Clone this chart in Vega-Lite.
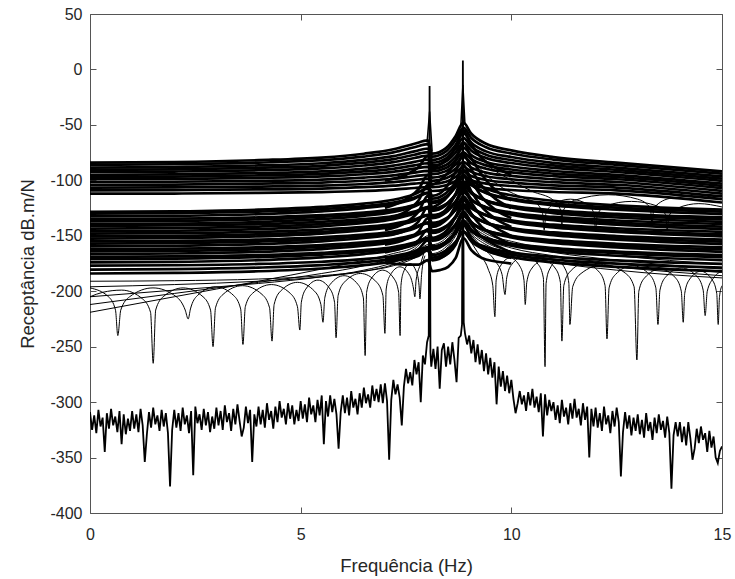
{
"$schema": "https://vega.github.io/schema/vega-lite/v6.json",
"width": 632, "height": 499,
"autosize": {"type": "none"},
"padding": {"left": 90, "top": 14, "right": 13, "bottom": 66},
"background": "white",
"config": {
  "view": {"stroke": "#555555", "strokeWidth": 1},
  "font": "Liberation Sans",
  "axis": {"labelFont": "Liberation Sans", "labelFontSize": 16, "labelColor": "#262626", "titleFont": "Liberation Sans", "titleFontSize": 18.5, "titleFontWeight": "normal", "titleColor": "#262626", "tickColor": "#555555", "tickSize": -6, "labelPadding": 14, "labelFlush": false, "labelOverlap": false, "domain": false, "grid": false}
},
"datasets": {
"b": [
{"s":"U1","x":0,"y":-84},{"s":"U1","x":2,"y":-83.5},{"s":"U1","x":4,"y":-81.8},{"s":"U1","x":5.5,"y":-79.5},{"s":"U1","x":6.5,"y":-76},{"s":"U1","x":7.2,"y":-72},{"s":"U1","x":7.7,"y":-67},{"s":"U1","x":8.02,"y":-64},{"s":"U1","x":8.12,"y":-76},{"s":"U1","x":8.45,"y":-71},{"s":"U1","x":8.68,"y":-60},{"s":"U1","x":8.86,"y":-48},{"s":"U1","x":9.05,"y":-58},{"s":"U1","x":9.4,"y":-67},{"s":"U1","x":10,"y":-73},{"s":"U1","x":11,"y":-79},{"s":"U1","x":12.5,"y":-84},{"s":"U1","x":15,"y":-92},
{"s":"U2","x":0,"y":-86},{"s":"U2","x":2,"y":-85.5},{"s":"U2","x":4,"y":-84},{"s":"U2","x":5.5,"y":-81.8},{"s":"U2","x":6.5,"y":-78.6},{"s":"U2","x":7.2,"y":-74.8},{"s":"U2","x":7.7,"y":-70.2},{"s":"U2","x":8.02,"y":-67.4},{"s":"U2","x":8.12,"y":-78.6},{"s":"U2","x":8.45,"y":-73.9},{"s":"U2","x":8.68,"y":-63.7},{"s":"U2","x":8.86,"y":-52.5},{"s":"U2","x":9.05,"y":-61.8},{"s":"U2","x":9.4,"y":-70.2},{"s":"U2","x":10,"y":-75.8},{"s":"U2","x":11,"y":-81.3},{"s":"U2","x":12.5,"y":-86},{"s":"U2","x":15,"y":-94},
{"s":"U3","x":0,"y":-88.5},{"s":"U3","x":2,"y":-88.1},{"s":"U3","x":4,"y":-86.6},{"s":"U3","x":5.5,"y":-84.6},{"s":"U3","x":6.5,"y":-81.6},{"s":"U3","x":7.2,"y":-78.2},{"s":"U3","x":7.7,"y":-73.9},{"s":"U3","x":8.02,"y":-71.3},{"s":"U3","x":8.12,"y":-81.6},{"s":"U3","x":8.45,"y":-77.3},{"s":"U3","x":8.68,"y":-67.9},{"s":"U3","x":8.86,"y":-57.5},{"s":"U3","x":9.05,"y":-66.1},{"s":"U3","x":9.4,"y":-73.9},{"s":"U3","x":10,"y":-79},{"s":"U3","x":11,"y":-84.2},{"s":"U3","x":12.5,"y":-88.5},{"s":"U3","x":15,"y":-96.5},
{"s":"U4","x":0,"y":-90.5},{"s":"U4","x":2,"y":-90.1},{"s":"U4","x":4,"y":-88.7},{"s":"U4","x":5.5,"y":-86.9},{"s":"U4","x":6.5,"y":-84.1},{"s":"U4","x":7.2,"y":-80.9},{"s":"U4","x":7.7,"y":-76.9},{"s":"U4","x":8.02,"y":-74.5},{"s":"U4","x":8.12,"y":-84.1},{"s":"U4","x":8.45,"y":-80.1},{"s":"U4","x":8.68,"y":-71.3},{"s":"U4","x":8.86,"y":-61.7},{"s":"U4","x":9.05,"y":-69.7},{"s":"U4","x":9.4,"y":-76.9},{"s":"U4","x":10,"y":-81.7},{"s":"U4","x":11,"y":-86.5},{"s":"U4","x":12.5,"y":-90.5},{"s":"U4","x":15,"y":-98.5},
{"s":"U5","x":0,"y":-92.5},{"s":"U5","x":2,"y":-92.1},{"s":"U5","x":4,"y":-90.9},{"s":"U5","x":5.5,"y":-89.2},{"s":"U5","x":6.5,"y":-86.6},{"s":"U5","x":7.2,"y":-83.6},{"s":"U5","x":7.7,"y":-79.9},{"s":"U5","x":8.02,"y":-77.7},{"s":"U5","x":8.12,"y":-86.6},{"s":"U5","x":8.45,"y":-82.9},{"s":"U5","x":8.68,"y":-74.7},{"s":"U5","x":8.86,"y":-65.9},{"s":"U5","x":9.05,"y":-73.3},{"s":"U5","x":9.4,"y":-79.9},{"s":"U5","x":10,"y":-84.4},{"s":"U5","x":11,"y":-88.8},{"s":"U5","x":12.5,"y":-92.5},{"s":"U5","x":15,"y":-100.5},
{"s":"U6","x":0,"y":-95},{"s":"U6","x":2,"y":-94.7},{"s":"U6","x":4,"y":-93.5},{"s":"U6","x":5.5,"y":-91.9},{"s":"U6","x":6.5,"y":-89.6},{"s":"U6","x":7.2,"y":-86.8},{"s":"U6","x":7.7,"y":-83.4},{"s":"U6","x":8.02,"y":-81.4},{"s":"U6","x":8.12,"y":-89.6},{"s":"U6","x":8.45,"y":-86.2},{"s":"U6","x":8.68,"y":-78.7},{"s":"U6","x":8.86,"y":-70.5},{"s":"U6","x":9.05,"y":-77.3},{"s":"U6","x":9.4,"y":-83.4},{"s":"U6","x":10,"y":-87.5},{"s":"U6","x":11,"y":-91.6},{"s":"U6","x":12.5,"y":-95},{"s":"U6","x":15,"y":-103},
{"s":"U7","x":0,"y":-97},{"s":"U7","x":2,"y":-96.7},{"s":"U7","x":4,"y":-95.6},{"s":"U7","x":5.5,"y":-94.2},{"s":"U7","x":6.5,"y":-92},{"s":"U7","x":7.2,"y":-89.6},{"s":"U7","x":7.7,"y":-86.5},{"s":"U7","x":8.02,"y":-84.6},{"s":"U7","x":8.12,"y":-92},{"s":"U7","x":8.45,"y":-88.9},{"s":"U7","x":8.68,"y":-82.1},{"s":"U7","x":8.86,"y":-74.7},{"s":"U7","x":9.05,"y":-80.9},{"s":"U7","x":9.4,"y":-86.5},{"s":"U7","x":10,"y":-90.2},{"s":"U7","x":11,"y":-93.9},{"s":"U7","x":12.5,"y":-97},{"s":"U7","x":15,"y":-105},
{"s":"U8","x":0,"y":-99},{"s":"U8","x":2,"y":-98.7},{"s":"U8","x":4,"y":-97.8},{"s":"U8","x":5.5,"y":-96.5},{"s":"U8","x":6.5,"y":-94.5},{"s":"U8","x":7.2,"y":-92.3},{"s":"U8","x":7.7,"y":-89.5},{"s":"U8","x":8.02,"y":-87.8},{"s":"U8","x":8.12,"y":-94.5},{"s":"U8","x":8.45,"y":-91.7},{"s":"U8","x":8.68,"y":-85.6},{"s":"U8","x":8.86,"y":-78.8},{"s":"U8","x":9.05,"y":-84.4},{"s":"U8","x":9.4,"y":-89.5},{"s":"U8","x":10,"y":-92.8},{"s":"U8","x":11,"y":-96.2},{"s":"U8","x":12.5,"y":-99},{"s":"U8","x":15,"y":-107},
{"s":"U9","x":0,"y":-101.5},{"s":"U9","x":2,"y":-101.3},{"s":"U9","x":4,"y":-100.4},{"s":"U9","x":5.5,"y":-99.3},{"s":"U9","x":6.5,"y":-97.5},{"s":"U9","x":7.2,"y":-95.5},{"s":"U9","x":7.7,"y":-93},{"s":"U9","x":8.02,"y":-91.5},{"s":"U9","x":8.12,"y":-97.5},{"s":"U9","x":8.45,"y":-95},{"s":"U9","x":8.68,"y":-89.5},{"s":"U9","x":8.86,"y":-83.5},{"s":"U9","x":9.05,"y":-88.5},{"s":"U9","x":9.4,"y":-93},{"s":"U9","x":10,"y":-96},{"s":"U9","x":11,"y":-99},{"s":"U9","x":12.5,"y":-101.5},{"s":"U9","x":15,"y":-109.5},
{"s":"U10","x":0,"y":-104},{"s":"U10","x":2,"y":-103.8},{"s":"U10","x":4,"y":-103},{"s":"U10","x":5.5,"y":-102},{"s":"U10","x":6.5,"y":-100.4},{"s":"U10","x":7.2,"y":-98.6},{"s":"U10","x":7.7,"y":-96.3},{"s":"U10","x":8.02,"y":-95},{"s":"U10","x":8.12,"y":-100.4},{"s":"U10","x":8.45,"y":-98.1},{"s":"U10","x":8.68,"y":-93.2},{"s":"U10","x":8.86,"y":-87.8},{"s":"U10","x":9.05,"y":-92.3},{"s":"U10","x":9.4,"y":-96.3},{"s":"U10","x":10,"y":-99},{"s":"U10","x":11,"y":-101.7},{"s":"U10","x":12.5,"y":-104},{"s":"U10","x":15,"y":-112},
{"s":"U11","x":0,"y":-106.5},{"s":"U11","x":2,"y":-106.3},{"s":"U11","x":4,"y":-105.6},{"s":"U11","x":5.5,"y":-104.7},{"s":"U11","x":6.5,"y":-103.3},{"s":"U11","x":7.2,"y":-101.7},{"s":"U11","x":7.7,"y":-99.7},{"s":"U11","x":8.02,"y":-98.5},{"s":"U11","x":8.12,"y":-103.3},{"s":"U11","x":8.45,"y":-101.3},{"s":"U11","x":8.68,"y":-96.9},{"s":"U11","x":8.86,"y":-92.1},{"s":"U11","x":9.05,"y":-96.1},{"s":"U11","x":9.4,"y":-99.7},{"s":"U11","x":10,"y":-102.1},{"s":"U11","x":11,"y":-104.5},{"s":"U11","x":12.5,"y":-106.5},{"s":"U11","x":15,"y":-114.5},
{"s":"U12","x":0,"y":-109},{"s":"U12","x":2,"y":-108.8},{"s":"U12","x":4,"y":-108.2},{"s":"U12","x":5.5,"y":-107.4},{"s":"U12","x":6.5,"y":-106.2},{"s":"U12","x":7.2,"y":-104.8},{"s":"U12","x":7.7,"y":-103},{"s":"U12","x":8.02,"y":-102},{"s":"U12","x":8.12,"y":-106.2},{"s":"U12","x":8.45,"y":-104.4},{"s":"U12","x":8.68,"y":-100.6},{"s":"U12","x":8.86,"y":-96.4},{"s":"U12","x":9.05,"y":-99.9},{"s":"U12","x":9.4,"y":-103},{"s":"U12","x":10,"y":-105.1},{"s":"U12","x":11,"y":-107.2},{"s":"U12","x":12.5,"y":-109},{"s":"U12","x":15,"y":-117},
{"s":"U13","x":0,"y":-112},{"s":"U13","x":2,"y":-111.9},{"s":"U13","x":4,"y":-111.3},{"s":"U13","x":5.5,"y":-110.6},{"s":"U13","x":6.5,"y":-109.6},{"s":"U13","x":7.2,"y":-108.4},{"s":"U13","x":7.7,"y":-106.9},{"s":"U13","x":8.02,"y":-106},{"s":"U13","x":8.12,"y":-109.6},{"s":"U13","x":8.45,"y":-108.1},{"s":"U13","x":8.68,"y":-104.8},{"s":"U13","x":8.86,"y":-101.2},{"s":"U13","x":9.05,"y":-104.2},{"s":"U13","x":9.4,"y":-106.9},{"s":"U13","x":10,"y":-108.7},{"s":"U13","x":11,"y":-110.5},{"s":"U13","x":12.5,"y":-112},{"s":"U13","x":15,"y":-120},
{"s":"L1","x":0,"y":-128.5},{"s":"L1","x":2,"y":-128},{"s":"L1","x":4,"y":-126.5},{"s":"L1","x":5.5,"y":-124},{"s":"L1","x":6.5,"y":-121},{"s":"L1","x":7.2,"y":-117.5},{"s":"L1","x":7.7,"y":-112.5},{"s":"L1","x":8.02,"y":-107.5},{"s":"L1","x":8.12,"y":-116.5},{"s":"L1","x":8.45,"y":-111.5},{"s":"L1","x":8.68,"y":-101.5},{"s":"L1","x":8.86,"y":-90.5},{"s":"L1","x":9.05,"y":-99.5},{"s":"L1","x":9.4,"y":-107.5},{"s":"L1","x":10,"y":-113.5},{"s":"L1","x":11,"y":-118.5},{"s":"L1","x":12.5,"y":-122.5},{"s":"L1","x":15,"y":-126.5},
{"s":"L2","x":0,"y":-130},{"s":"L2","x":2,"y":-129.6},{"s":"L2","x":4,"y":-128.2},{"s":"L2","x":5.5,"y":-126},{"s":"L2","x":6.5,"y":-123.3},{"s":"L2","x":7.2,"y":-120.1},{"s":"L2","x":7.7,"y":-115.6},{"s":"L2","x":8.02,"y":-111.1},{"s":"L2","x":8.12,"y":-119.2},{"s":"L2","x":8.45,"y":-114.7},{"s":"L2","x":8.68,"y":-105.7},{"s":"L2","x":8.86,"y":-95.8},{"s":"L2","x":9.05,"y":-103.9},{"s":"L2","x":9.4,"y":-111.1},{"s":"L2","x":10,"y":-116.5},{"s":"L2","x":11,"y":-121},{"s":"L2","x":12.5,"y":-124.6},{"s":"L2","x":15,"y":-128.2},
{"s":"L3","x":0,"y":-132.5},{"s":"L3","x":2,"y":-132},{"s":"L3","x":4,"y":-130.5},{"s":"L3","x":5.5,"y":-128},{"s":"L3","x":6.5,"y":-125},{"s":"L3","x":7.2,"y":-121.5},{"s":"L3","x":7.7,"y":-116.5},{"s":"L3","x":8.02,"y":-111.5},{"s":"L3","x":8.12,"y":-120.5},{"s":"L3","x":8.45,"y":-115.5},{"s":"L3","x":8.68,"y":-105.5},{"s":"L3","x":8.86,"y":-94.5},{"s":"L3","x":9.05,"y":-103.5},{"s":"L3","x":9.4,"y":-111.5},{"s":"L3","x":10,"y":-117.5},{"s":"L3","x":11,"y":-122.5},{"s":"L3","x":12.5,"y":-126.5},{"s":"L3","x":15,"y":-130.5},
{"s":"L4","x":0,"y":-135},{"s":"L4","x":2,"y":-134.6},{"s":"L4","x":4,"y":-133.4},{"s":"L4","x":5.5,"y":-131.4},{"s":"L4","x":6.5,"y":-129},{"s":"L4","x":7.2,"y":-126.2},{"s":"L4","x":7.7,"y":-122.2},{"s":"L4","x":8.02,"y":-118.2},{"s":"L4","x":8.12,"y":-125.4},{"s":"L4","x":8.45,"y":-121.4},{"s":"L4","x":8.68,"y":-113.4},{"s":"L4","x":8.86,"y":-104.6},{"s":"L4","x":9.05,"y":-111.8},{"s":"L4","x":9.4,"y":-118.2},{"s":"L4","x":10,"y":-123},{"s":"L4","x":11,"y":-127},{"s":"L4","x":12.5,"y":-130.2},{"s":"L4","x":15,"y":-133.4},
{"s":"L5","x":0,"y":-137},{"s":"L5","x":2,"y":-136.6},{"s":"L5","x":4,"y":-135.2},{"s":"L5","x":5.5,"y":-133},{"s":"L5","x":6.5,"y":-130.3},{"s":"L5","x":7.2,"y":-127.1},{"s":"L5","x":7.7,"y":-122.6},{"s":"L5","x":8.02,"y":-118.1},{"s":"L5","x":8.12,"y":-126.2},{"s":"L5","x":8.45,"y":-121.7},{"s":"L5","x":8.68,"y":-112.7},{"s":"L5","x":8.86,"y":-102.8},{"s":"L5","x":9.05,"y":-110.9},{"s":"L5","x":9.4,"y":-118.1},{"s":"L5","x":10,"y":-123.5},{"s":"L5","x":11,"y":-128},{"s":"L5","x":12.5,"y":-131.6},{"s":"L5","x":15,"y":-135.2},
{"s":"L6","x":0,"y":-139.5},{"s":"L6","x":2,"y":-139},{"s":"L6","x":4,"y":-137.5},{"s":"L6","x":5.5,"y":-135},{"s":"L6","x":6.5,"y":-132},{"s":"L6","x":7.2,"y":-128.5},{"s":"L6","x":7.7,"y":-123.5},{"s":"L6","x":8.02,"y":-118.5},{"s":"L6","x":8.12,"y":-127.5},{"s":"L6","x":8.45,"y":-122.5},{"s":"L6","x":8.68,"y":-112.5},{"s":"L6","x":8.86,"y":-101.5},{"s":"L6","x":9.05,"y":-110.5},{"s":"L6","x":9.4,"y":-118.5},{"s":"L6","x":10,"y":-124.5},{"s":"L6","x":11,"y":-129.5},{"s":"L6","x":12.5,"y":-133.5},{"s":"L6","x":15,"y":-137.5},
{"s":"L7","x":0,"y":-141},{"s":"L7","x":2,"y":-140.6},{"s":"L7","x":4,"y":-139.4},{"s":"L7","x":5.5,"y":-137.4},{"s":"L7","x":6.5,"y":-135},{"s":"L7","x":7.2,"y":-132.2},{"s":"L7","x":7.7,"y":-128.2},{"s":"L7","x":8.02,"y":-124.2},{"s":"L7","x":8.12,"y":-131.4},{"s":"L7","x":8.45,"y":-127.4},{"s":"L7","x":8.68,"y":-119.4},{"s":"L7","x":8.86,"y":-110.6},{"s":"L7","x":9.05,"y":-117.8},{"s":"L7","x":9.4,"y":-124.2},{"s":"L7","x":10,"y":-129},{"s":"L7","x":11,"y":-133},{"s":"L7","x":12.5,"y":-136.2},{"s":"L7","x":15,"y":-139.4},
{"s":"L8","x":0,"y":-143.5},{"s":"L8","x":2,"y":-143.1},{"s":"L8","x":4,"y":-141.7},{"s":"L8","x":5.5,"y":-139.5},{"s":"L8","x":6.5,"y":-136.8},{"s":"L8","x":7.2,"y":-133.6},{"s":"L8","x":7.7,"y":-129.1},{"s":"L8","x":8.02,"y":-124.6},{"s":"L8","x":8.12,"y":-132.7},{"s":"L8","x":8.45,"y":-128.2},{"s":"L8","x":8.68,"y":-119.2},{"s":"L8","x":8.86,"y":-109.3},{"s":"L8","x":9.05,"y":-117.4},{"s":"L8","x":9.4,"y":-124.6},{"s":"L8","x":10,"y":-130},{"s":"L8","x":11,"y":-134.5},{"s":"L8","x":12.5,"y":-138.1},{"s":"L8","x":15,"y":-141.7},
{"s":"L9","x":0,"y":-146},{"s":"L9","x":2,"y":-145.5},{"s":"L9","x":4,"y":-144},{"s":"L9","x":5.5,"y":-141.5},{"s":"L9","x":6.5,"y":-138.5},{"s":"L9","x":7.2,"y":-135},{"s":"L9","x":7.7,"y":-130},{"s":"L9","x":8.02,"y":-125},{"s":"L9","x":8.12,"y":-134},{"s":"L9","x":8.45,"y":-129},{"s":"L9","x":8.68,"y":-119},{"s":"L9","x":8.86,"y":-108},{"s":"L9","x":9.05,"y":-117},{"s":"L9","x":9.4,"y":-125},{"s":"L9","x":10,"y":-131},{"s":"L9","x":11,"y":-136},{"s":"L9","x":12.5,"y":-140},{"s":"L9","x":15,"y":-144},
{"s":"L10","x":0,"y":-148},{"s":"L10","x":2,"y":-147.6},{"s":"L10","x":4,"y":-146.4},{"s":"L10","x":5.5,"y":-144.4},{"s":"L10","x":6.5,"y":-142},{"s":"L10","x":7.2,"y":-139.2},{"s":"L10","x":7.7,"y":-135.2},{"s":"L10","x":8.02,"y":-131.2},{"s":"L10","x":8.12,"y":-138.4},{"s":"L10","x":8.45,"y":-134.4},{"s":"L10","x":8.68,"y":-126.4},{"s":"L10","x":8.86,"y":-117.6},{"s":"L10","x":9.05,"y":-124.8},{"s":"L10","x":9.4,"y":-131.2},{"s":"L10","x":10,"y":-136},{"s":"L10","x":11,"y":-140},{"s":"L10","x":12.5,"y":-143.2},{"s":"L10","x":15,"y":-146.4},
{"s":"L11","x":0,"y":-150.5},{"s":"L11","x":2,"y":-150.1},{"s":"L11","x":4,"y":-148.7},{"s":"L11","x":5.5,"y":-146.5},{"s":"L11","x":6.5,"y":-143.8},{"s":"L11","x":7.2,"y":-140.6},{"s":"L11","x":7.7,"y":-136.1},{"s":"L11","x":8.02,"y":-131.6},{"s":"L11","x":8.12,"y":-139.7},{"s":"L11","x":8.45,"y":-135.2},{"s":"L11","x":8.68,"y":-126.2},{"s":"L11","x":8.86,"y":-116.3},{"s":"L11","x":9.05,"y":-124.4},{"s":"L11","x":9.4,"y":-131.6},{"s":"L11","x":10,"y":-137},{"s":"L11","x":11,"y":-141.5},{"s":"L11","x":12.5,"y":-145.1},{"s":"L11","x":15,"y":-148.7},
{"s":"L12","x":0,"y":-152.5},{"s":"L12","x":2,"y":-152},{"s":"L12","x":4,"y":-150.5},{"s":"L12","x":5.5,"y":-148},{"s":"L12","x":6.5,"y":-145},{"s":"L12","x":7.2,"y":-141.5},{"s":"L12","x":7.7,"y":-136.5},{"s":"L12","x":8.02,"y":-131.5},{"s":"L12","x":8.12,"y":-140.5},{"s":"L12","x":8.45,"y":-135.5},{"s":"L12","x":8.68,"y":-125.5},{"s":"L12","x":8.86,"y":-114.5},{"s":"L12","x":9.05,"y":-123.5},{"s":"L12","x":9.4,"y":-131.5},{"s":"L12","x":10,"y":-137.5},{"s":"L12","x":11,"y":-142.5},{"s":"L12","x":12.5,"y":-146.5},{"s":"L12","x":15,"y":-150.5},
{"s":"L13","x":0,"y":-155},{"s":"L13","x":2,"y":-154.6},{"s":"L13","x":4,"y":-153.4},{"s":"L13","x":5.5,"y":-151.4},{"s":"L13","x":6.5,"y":-149},{"s":"L13","x":7.2,"y":-146.2},{"s":"L13","x":7.7,"y":-142.2},{"s":"L13","x":8.02,"y":-138.2},{"s":"L13","x":8.12,"y":-145.4},{"s":"L13","x":8.45,"y":-141.4},{"s":"L13","x":8.68,"y":-133.4},{"s":"L13","x":8.86,"y":-124.6},{"s":"L13","x":9.05,"y":-131.8},{"s":"L13","x":9.4,"y":-138.2},{"s":"L13","x":10,"y":-143},{"s":"L13","x":11,"y":-147},{"s":"L13","x":12.5,"y":-150.2},{"s":"L13","x":15,"y":-153.4},
{"s":"L14","x":0,"y":-157},{"s":"L14","x":2,"y":-156.6},{"s":"L14","x":4,"y":-155.2},{"s":"L14","x":5.5,"y":-153},{"s":"L14","x":6.5,"y":-150.3},{"s":"L14","x":7.2,"y":-147.1},{"s":"L14","x":7.7,"y":-142.6},{"s":"L14","x":8.02,"y":-138.1},{"s":"L14","x":8.12,"y":-146.2},{"s":"L14","x":8.45,"y":-141.7},{"s":"L14","x":8.68,"y":-132.7},{"s":"L14","x":8.86,"y":-122.8},{"s":"L14","x":9.05,"y":-130.9},{"s":"L14","x":9.4,"y":-138.1},{"s":"L14","x":10,"y":-143.5},{"s":"L14","x":11,"y":-148},{"s":"L14","x":12.5,"y":-151.6},{"s":"L14","x":15,"y":-155.2},
{"s":"L15","x":0,"y":-159.5},{"s":"L15","x":2,"y":-159},{"s":"L15","x":4,"y":-157.5},{"s":"L15","x":5.5,"y":-155},{"s":"L15","x":6.5,"y":-152},{"s":"L15","x":7.2,"y":-148.5},{"s":"L15","x":7.7,"y":-143.5},{"s":"L15","x":8.02,"y":-138.5},{"s":"L15","x":8.12,"y":-147.5},{"s":"L15","x":8.45,"y":-142.5},{"s":"L15","x":8.68,"y":-132.5},{"s":"L15","x":8.86,"y":-121.5},{"s":"L15","x":9.05,"y":-130.5},{"s":"L15","x":9.4,"y":-138.5},{"s":"L15","x":10,"y":-144.5},{"s":"L15","x":11,"y":-149.5},{"s":"L15","x":12.5,"y":-153.5},{"s":"L15","x":15,"y":-157.5},
{"s":"L16","x":0,"y":-162},{"s":"L16","x":2,"y":-161.6},{"s":"L16","x":4,"y":-160.4},{"s":"L16","x":5.5,"y":-158.4},{"s":"L16","x":6.5,"y":-156},{"s":"L16","x":7.2,"y":-153.2},{"s":"L16","x":7.7,"y":-149.2},{"s":"L16","x":8.02,"y":-145.2},{"s":"L16","x":8.12,"y":-152.4},{"s":"L16","x":8.45,"y":-148.4},{"s":"L16","x":8.68,"y":-140.4},{"s":"L16","x":8.86,"y":-131.6},{"s":"L16","x":9.05,"y":-138.8},{"s":"L16","x":9.4,"y":-145.2},{"s":"L16","x":10,"y":-150},{"s":"L16","x":11,"y":-154},{"s":"L16","x":12.5,"y":-157.2},{"s":"L16","x":15,"y":-160.4},
{"s":"L17","x":0,"y":-164},{"s":"L17","x":2,"y":-163.6},{"s":"L17","x":4,"y":-162.2},{"s":"L17","x":5.5,"y":-160},{"s":"L17","x":6.5,"y":-157.3},{"s":"L17","x":7.2,"y":-154.1},{"s":"L17","x":7.7,"y":-149.6},{"s":"L17","x":8.02,"y":-145.1},{"s":"L17","x":8.12,"y":-153.2},{"s":"L17","x":8.45,"y":-148.7},{"s":"L17","x":8.68,"y":-139.7},{"s":"L17","x":8.86,"y":-129.8},{"s":"L17","x":9.05,"y":-137.9},{"s":"L17","x":9.4,"y":-145.1},{"s":"L17","x":10,"y":-150.5},{"s":"L17","x":11,"y":-155},{"s":"L17","x":12.5,"y":-158.6},{"s":"L17","x":15,"y":-162.2},
{"s":"L18","x":0,"y":-166.5},{"s":"L18","x":2,"y":-166},{"s":"L18","x":4,"y":-164.5},{"s":"L18","x":5.5,"y":-162},{"s":"L18","x":6.5,"y":-159},{"s":"L18","x":7.2,"y":-155.5},{"s":"L18","x":7.7,"y":-150.5},{"s":"L18","x":8.02,"y":-145.5},{"s":"L18","x":8.12,"y":-154.5},{"s":"L18","x":8.45,"y":-149.5},{"s":"L18","x":8.68,"y":-139.5},{"s":"L18","x":8.86,"y":-128.5},{"s":"L18","x":9.05,"y":-137.5},{"s":"L18","x":9.4,"y":-145.5},{"s":"L18","x":10,"y":-151.5},{"s":"L18","x":11,"y":-156.5},{"s":"L18","x":12.5,"y":-160.5},{"s":"L18","x":15,"y":-164.5},
{"s":"L19","x":0,"y":-169},{"s":"L19","x":2,"y":-168.6},{"s":"L19","x":4,"y":-167.4},{"s":"L19","x":5.5,"y":-165.4},{"s":"L19","x":6.5,"y":-163},{"s":"L19","x":7.2,"y":-160.2},{"s":"L19","x":7.7,"y":-156.2},{"s":"L19","x":8.02,"y":-152.2},{"s":"L19","x":8.12,"y":-159.4},{"s":"L19","x":8.45,"y":-155.4},{"s":"L19","x":8.68,"y":-147.4},{"s":"L19","x":8.86,"y":-138.6},{"s":"L19","x":9.05,"y":-145.8},{"s":"L19","x":9.4,"y":-152.2},{"s":"L19","x":10,"y":-157},{"s":"L19","x":11,"y":-161},{"s":"L19","x":12.5,"y":-164.2},{"s":"L19","x":15,"y":-167.4},
{"s":"L20","x":0,"y":-171},{"s":"L20","x":2,"y":-170.6},{"s":"L20","x":4,"y":-169.2},{"s":"L20","x":5.5,"y":-167},{"s":"L20","x":6.5,"y":-164.3},{"s":"L20","x":7.2,"y":-161.1},{"s":"L20","x":7.7,"y":-156.6},{"s":"L20","x":8.02,"y":-152.1},{"s":"L20","x":8.12,"y":-160.2},{"s":"L20","x":8.45,"y":-155.7},{"s":"L20","x":8.68,"y":-146.7},{"s":"L20","x":8.86,"y":-136.8},{"s":"L20","x":9.05,"y":-144.9},{"s":"L20","x":9.4,"y":-152.1},{"s":"L20","x":10,"y":-157.5},{"s":"L20","x":11,"y":-162},{"s":"L20","x":12.5,"y":-165.6},{"s":"L20","x":15,"y":-169.2},
{"s":"L21","x":0,"y":-174},{"s":"L21","x":2,"y":-173.5},{"s":"L21","x":4,"y":-172},{"s":"L21","x":5.5,"y":-169.5},{"s":"L21","x":6.5,"y":-166.5},{"s":"L21","x":7.2,"y":-163},{"s":"L21","x":7.7,"y":-158},{"s":"L21","x":8.02,"y":-153},{"s":"L21","x":8.12,"y":-162},{"s":"L21","x":8.45,"y":-157},{"s":"L21","x":8.68,"y":-147},{"s":"L21","x":8.86,"y":-136},{"s":"L21","x":9.05,"y":-145},{"s":"L21","x":9.4,"y":-153},{"s":"L21","x":10,"y":-159},{"s":"L21","x":11,"y":-164},{"s":"L21","x":12.5,"y":-168},{"s":"L21","x":15,"y":-172},
{"s":"L22","x":0,"y":-177},{"s":"L22","x":2,"y":-176.6},{"s":"L22","x":4,"y":-175.4},{"s":"L22","x":5.5,"y":-173.4},{"s":"L22","x":6.5,"y":-171},{"s":"L22","x":7.2,"y":-168.2},{"s":"L22","x":7.7,"y":-164.2},{"s":"L22","x":8.02,"y":-160.2},{"s":"L22","x":8.12,"y":-167.4},{"s":"L22","x":8.45,"y":-163.4},{"s":"L22","x":8.68,"y":-155.4},{"s":"L22","x":8.86,"y":-146.6},{"s":"L22","x":9.05,"y":-153.8},{"s":"L22","x":9.4,"y":-160.2},{"s":"L22","x":10,"y":-165},{"s":"L22","x":11,"y":-169},{"s":"L22","x":12.5,"y":-172.2},{"s":"L22","x":15,"y":-175.4},
{"s":"L23","x":0,"y":-180.5},{"s":"L23","x":2,"y":-180.1},{"s":"L23","x":4,"y":-178.7},{"s":"L23","x":5.5,"y":-176.5},{"s":"L23","x":6.5,"y":-173.8},{"s":"L23","x":7.2,"y":-170.6},{"s":"L23","x":7.7,"y":-166.1},{"s":"L23","x":8.02,"y":-161.6},{"s":"L23","x":8.12,"y":-169.7},{"s":"L23","x":8.45,"y":-165.2},{"s":"L23","x":8.68,"y":-156.2},{"s":"L23","x":8.86,"y":-146.3},{"s":"L23","x":9.05,"y":-154.4},{"s":"L23","x":9.4,"y":-161.6},{"s":"L23","x":10,"y":-167},{"s":"L23","x":11,"y":-171.5},{"s":"L23","x":12.5,"y":-175.1},{"s":"L23","x":15,"y":-178.7},
{"s":"L24","x":0,"y":-184},{"s":"L24","x":2,"y":-183.5},{"s":"L24","x":4,"y":-182},{"s":"L24","x":5.5,"y":-179.5},{"s":"L24","x":6.5,"y":-176.5},{"s":"L24","x":7.2,"y":-173},{"s":"L24","x":7.7,"y":-168},{"s":"L24","x":8.02,"y":-163},{"s":"L24","x":8.12,"y":-172},{"s":"L24","x":8.45,"y":-167},{"s":"L24","x":8.68,"y":-157},{"s":"L24","x":8.86,"y":-146},{"s":"L24","x":9.05,"y":-155},{"s":"L24","x":9.4,"y":-163},{"s":"L24","x":10,"y":-169},{"s":"L24","x":11,"y":-174},{"s":"L24","x":12.5,"y":-178},{"s":"L24","x":15,"y":-182},
{"s":"K1","x":7.0,"y":-100},{"s":"K1","x":7.5,"y":-95},{"s":"K1","x":7.8,"y":-88},{"s":"K1","x":8.02,"y":-78},{"s":"K1","x":8.12,"y":-88},{"s":"K1","x":8.3,"y":-86},{"s":"K1","x":8.5,"y":-80},{"s":"K1","x":8.68,"y":-70},{"s":"K1","x":8.86,"y":-55},{"s":"K1","x":9.05,"y":-68},{"s":"K1","x":9.3,"y":-80},{"s":"K1","x":9.6,"y":-88},{"s":"K1","x":10.0,"y":-95},
{"s":"K2","x":7.0,"y":-125},{"s":"K2","x":7.5,"y":-117},{"s":"K2","x":7.8,"y":-108},{"s":"K2","x":8.02,"y":-95},{"s":"K2","x":8.12,"y":-104},{"s":"K2","x":8.3,"y":-100},{"s":"K2","x":8.5,"y":-93},{"s":"K2","x":8.68,"y":-82},{"s":"K2","x":8.86,"y":-66},{"s":"K2","x":9.05,"y":-80},{"s":"K2","x":9.3,"y":-95},{"s":"K2","x":9.6,"y":-108},{"s":"K2","x":10.0,"y":-118},
{"s":"K3","x":7.0,"y":-135},{"s":"K3","x":7.5,"y":-128},{"s":"K3","x":7.8,"y":-118},{"s":"K3","x":8.02,"y":-104},{"s":"K3","x":8.12,"y":-114},{"s":"K3","x":8.3,"y":-112},{"s":"K3","x":8.5,"y":-104},{"s":"K3","x":8.68,"y":-92},{"s":"K3","x":8.86,"y":-76},{"s":"K3","x":9.05,"y":-90},{"s":"K3","x":9.3,"y":-105},{"s":"K3","x":9.6,"y":-116},{"s":"K3","x":10.0,"y":-125},
{"s":"K4","x":7.0,"y":-145},{"s":"K4","x":7.5,"y":-138},{"s":"K4","x":7.8,"y":-128},{"s":"K4","x":8.02,"y":-114},{"s":"K4","x":8.12,"y":-124},{"s":"K4","x":8.3,"y":-121},{"s":"K4","x":8.5,"y":-114},{"s":"K4","x":8.68,"y":-102},{"s":"K4","x":8.86,"y":-86},{"s":"K4","x":9.05,"y":-100},{"s":"K4","x":9.3,"y":-115},{"s":"K4","x":9.6,"y":-126},{"s":"K4","x":10.0,"y":-134},
{"s":"K5","x":7.0,"y":-150},{"s":"K5","x":7.5,"y":-145},{"s":"K5","x":7.8,"y":-137},{"s":"K5","x":8.02,"y":-124},{"s":"K5","x":8.12,"y":-133},{"s":"K5","x":8.3,"y":-131},{"s":"K5","x":8.5,"y":-124},{"s":"K5","x":8.68,"y":-112},{"s":"K5","x":8.86,"y":-96},{"s":"K5","x":9.05,"y":-110},{"s":"K5","x":9.3,"y":-124},{"s":"K5","x":9.6,"y":-134},{"s":"K5","x":10.0,"y":-142},
{"s":"K6","x":7.0,"y":-158},{"s":"K6","x":7.5,"y":-153},{"s":"K6","x":7.8,"y":-146},{"s":"K6","x":8.02,"y":-134},{"s":"K6","x":8.12,"y":-142},{"s":"K6","x":8.3,"y":-140},{"s":"K6","x":8.5,"y":-134},{"s":"K6","x":8.68,"y":-122},{"s":"K6","x":8.86,"y":-106},{"s":"K6","x":9.05,"y":-120},{"s":"K6","x":9.3,"y":-133},{"s":"K6","x":9.6,"y":-142},{"s":"K6","x":10.0,"y":-150},
{"s":"K7","x":7.0,"y":-165},{"s":"K7","x":7.5,"y":-160},{"s":"K7","x":7.8,"y":-154},{"s":"K7","x":8.02,"y":-144},{"s":"K7","x":8.12,"y":-152},{"s":"K7","x":8.3,"y":-150},{"s":"K7","x":8.5,"y":-144},{"s":"K7","x":8.68,"y":-133},{"s":"K7","x":8.86,"y":-117},{"s":"K7","x":9.05,"y":-130},{"s":"K7","x":9.3,"y":-142},{"s":"K7","x":9.6,"y":-150},{"s":"K7","x":10.0,"y":-158},
{"s":"K8","x":7.0,"y":-170},{"s":"K8","x":7.5,"y":-167},{"s":"K8","x":7.8,"y":-162},{"s":"K8","x":8.02,"y":-154},{"s":"K8","x":8.12,"y":-162},{"s":"K8","x":8.3,"y":-160},{"s":"K8","x":8.5,"y":-155},{"s":"K8","x":8.68,"y":-145},{"s":"K8","x":8.86,"y":-128},{"s":"K8","x":9.05,"y":-140},{"s":"K8","x":9.3,"y":-151},{"s":"K8","x":9.6,"y":-158},{"s":"K8","x":10.0,"y":-165},
{"s":"K9","x":7.0,"y":-172},{"s":"K9","x":7.5,"y":-171},{"s":"K9","x":7.8,"y":-168},{"s":"K9","x":8.02,"y":-163},{"s":"K9","x":8.12,"y":-172},{"s":"K9","x":8.3,"y":-170},{"s":"K9","x":8.5,"y":-166},{"s":"K9","x":8.68,"y":-158},{"s":"K9","x":8.86,"y":-140},{"s":"K9","x":9.05,"y":-152},{"s":"K9","x":9.3,"y":-161},{"s":"K9","x":9.6,"y":-166},{"s":"K9","x":10.0,"y":-170},
{"s":"K10","x":7.0,"y":-174},{"s":"K10","x":7.5,"y":-176},{"s":"K10","x":7.8,"y":-176},{"s":"K10","x":8.02,"y":-172},{"s":"K10","x":8.12,"y":-182},{"s":"K10","x":8.3,"y":-181},{"s":"K10","x":8.5,"y":-178},{"s":"K10","x":8.68,"y":-170},{"s":"K10","x":8.86,"y":-152},{"s":"K10","x":9.05,"y":-163},{"s":"K10","x":9.3,"y":-170},{"s":"K10","x":9.6,"y":-173},{"s":"K10","x":10.0,"y":-175}
],
"t": [
{"s":"D1","x":0,"y":-219},{"s":"D1","x":2,"y":-205},{"s":"D1","x":4,"y":-191},{"s":"D1","x":5.5,"y":-180},{"s":"D1","x":6.5,"y":-172},{"s":"D1","x":7.2,"y":-166},{"s":"D1","x":7.7,"y":-160},{"s":"D1","x":8.02,"y":-150},{"s":"D1","x":8.12,"y":-158},{"s":"D1","x":8.45,"y":-152},{"s":"D1","x":8.68,"y":-140},{"s":"D1","x":8.86,"y":-128},{"s":"D1","x":9.05,"y":-138},{"s":"D1","x":9.4,"y":-148},{"s":"D1","x":10,"y":-155},{"s":"D1","x":11,"y":-162},{"s":"D1","x":12.5,"y":-168},{"s":"D1","x":15,"y":-176},
{"s":"D2","x":0,"y":-212},{"s":"D2","x":2,"y":-202},{"s":"D2","x":4,"y":-192},{"s":"D2","x":5.5,"y":-184},{"s":"D2","x":6.5,"y":-177},{"s":"D2","x":7.2,"y":-170},{"s":"D2","x":7.7,"y":-162},{"s":"D2","x":8.02,"y":-152},{"s":"D2","x":8.12,"y":-160},{"s":"D2","x":8.45,"y":-154},{"s":"D2","x":8.68,"y":-142},{"s":"D2","x":8.86,"y":-130},{"s":"D2","x":9.05,"y":-140},{"s":"D2","x":9.4,"y":-150},{"s":"D2","x":10,"y":-158},{"s":"D2","x":11,"y":-165},{"s":"D2","x":12.5,"y":-172},{"s":"D2","x":15,"y":-180},
{"s":"D3","x":0,"y":-205},{"s":"D3","x":2,"y":-199},{"s":"D3","x":4,"y":-193},{"s":"D3","x":5.5,"y":-187},{"s":"D3","x":6.5,"y":-181},{"s":"D3","x":7.2,"y":-174},{"s":"D3","x":7.7,"y":-165},{"s":"D3","x":8.02,"y":-155},{"s":"D3","x":8.12,"y":-163},{"s":"D3","x":8.45,"y":-157},{"s":"D3","x":8.68,"y":-145},{"s":"D3","x":8.86,"y":-133},{"s":"D3","x":9.05,"y":-143},{"s":"D3","x":9.4,"y":-153},{"s":"D3","x":10,"y":-161},{"s":"D3","x":11,"y":-168},{"s":"D3","x":12.5,"y":-175},{"s":"D3","x":15,"y":-183},
{"s":"D4","x":0,"y":-196},{"s":"D4","x":2,"y":-194},{"s":"D4","x":4,"y":-191},{"s":"D4","x":5.5,"y":-187},{"s":"D4","x":6.5,"y":-182},{"s":"D4","x":7.2,"y":-176},{"s":"D4","x":7.7,"y":-168},{"s":"D4","x":8.02,"y":-158},{"s":"D4","x":8.12,"y":-166},{"s":"D4","x":8.45,"y":-160},{"s":"D4","x":8.68,"y":-148},{"s":"D4","x":8.86,"y":-136},{"s":"D4","x":9.05,"y":-146},{"s":"D4","x":9.4,"y":-156},{"s":"D4","x":10,"y":-164},{"s":"D4","x":11,"y":-171},{"s":"D4","x":12.5,"y":-178},{"s":"D4","x":15,"y":-186},
{"s":"D5","x":0,"y":-191},{"s":"D5","x":2,"y":-190.5},{"s":"D5","x":4,"y":-189},{"s":"D5","x":5.5,"y":-186},{"s":"D5","x":6.5,"y":-182},{"s":"D5","x":7.2,"y":-177},{"s":"D5","x":7.7,"y":-170},{"s":"D5","x":8.02,"y":-162},{"s":"D5","x":8.12,"y":-168},{"s":"D5","x":8.45,"y":-162},{"s":"D5","x":8.68,"y":-150},{"s":"D5","x":8.86,"y":-138},{"s":"D5","x":9.05,"y":-148},{"s":"D5","x":9.4,"y":-158},{"s":"D5","x":10,"y":-166},{"s":"D5","x":11,"y":-174},{"s":"D5","x":12.5,"y":-181},{"s":"D5","x":15,"y":-188},
{"s":"A","x":0,"y":-197},{"s":"A","x":0.44,"y":-205},{"s":"A","x":0.605,"y":-217},{"s":"A","x":0.66,"y":-240},{"s":"A","x":0.73,"y":-217},{"s":"A","x":0.94,"y":-205},{"s":"A","x":1.495,"y":-197},{"s":"A","x":2.05,"y":-205},{"s":"A","x":2.26,"y":-217},{"s":"A","x":2.33,"y":-225},{"s":"A","x":2.384,"y":-216},{"s":"A","x":2.547,"y":-204},{"s":"A","x":2.98,"y":-196},{"s":"A","x":3.413,"y":-204},{"s":"A","x":3.576,"y":-216},{"s":"A","x":3.63,"y":-248},{"s":"A","x":3.686,"y":-214},{"s":"A","x":3.855,"y":-202},{"s":"A","x":4.305,"y":-194},{"s":"A","x":4.755,"y":-202},{"s":"A","x":4.924,"y":-214},{"s":"A","x":4.98,"y":-235},{"s":"A","x":5.016,"y":-210},{"s":"A","x":5.123,"y":-198},{"s":"A","x":5.41,"y":-190},{"s":"A","x":5.697,"y":-198},{"s":"A","x":5.804,"y":-210},{"s":"A","x":5.84,"y":-242},{"s":"A","x":5.888,"y":-204},{"s":"A","x":6.033,"y":-192},{"s":"A","x":6.42,"y":-184},{"s":"A","x":6.807,"y":-192},{"s":"A","x":6.952,"y":-204},{"s":"A","x":7.0,"y":-238},{"s":"A","x":7.03,"y":-198},{"s":"A","x":7.118,"y":-186},{"s":"A","x":7.355,"y":-178},{"s":"A","x":7.592,"y":-186},{"s":"A","x":7.68,"y":-198},{"s":"A","x":7.71,"y":-205},{"s":"A","x":7.74,"y":-190},{"s":"A","x":7.85,"y":-175},{"s":"A","x":7.95,"y":-162},
{"s":"B","x":0,"y":-205},{"s":"B","x":0.3,"y":-201},{"s":"B","x":0.75,"y":-199},{"s":"B","x":1.25,"y":-207},{"s":"B","x":1.437,"y":-219},{"s":"B","x":1.5,"y":-265},{"s":"B","x":1.559,"y":-217},{"s":"B","x":1.737,"y":-205},{"s":"B","x":2.21,"y":-197},{"s":"B","x":2.683,"y":-205},{"s":"B","x":2.861,"y":-217},{"s":"B","x":2.92,"y":-250},{"s":"B","x":2.978,"y":-215},{"s":"B","x":3.153,"y":-203},{"s":"B","x":3.62,"y":-195},{"s":"B","x":4.087,"y":-203},{"s":"B","x":4.262,"y":-215},{"s":"B","x":4.32,"y":-245},{"s":"B","x":4.37,"y":-212},{"s":"B","x":4.52,"y":-200},{"s":"B","x":4.925,"y":-192},{"s":"B","x":5.33,"y":-200},{"s":"B","x":5.48,"y":-212},{"s":"B","x":5.53,"y":-228},{"s":"B","x":5.572,"y":-206},{"s":"B","x":5.697,"y":-194},{"s":"B","x":6.03,"y":-186},{"s":"B","x":6.363,"y":-194},{"s":"B","x":6.488,"y":-206},{"s":"B","x":6.53,"y":-258},{"s":"B","x":6.565,"y":-201},{"s":"B","x":6.668,"y":-189},{"s":"B","x":6.945,"y":-181},{"s":"B","x":7.222,"y":-189},{"s":"B","x":7.325,"y":-201},{"s":"B","x":7.36,"y":-240},{"s":"B","x":7.38,"y":-195},{"s":"B","x":7.438,"y":-183},{"s":"B","x":7.595,"y":-175},{"s":"B","x":7.752,"y":-183},{"s":"B","x":7.81,"y":-195},{"s":"B","x":7.83,"y":-207},{"s":"B","x":7.87,"y":-185},{"s":"B","x":7.95,"y":-168},
{"s":"C","x":8.95,"y":-150},{"s":"C","x":9.2,"y":-165},{"s":"C","x":9.45,"y":-180},{"s":"C","x":9.56,"y":-195},{"s":"C","x":9.61,"y":-223},{"s":"C","x":9.64,"y":-190},{"s":"C","x":9.73,"y":-178},{"s":"C","x":9.97,"y":-170},{"s":"C","x":10.21,"y":-178},{"s":"C","x":10.3,"y":-190},{"s":"C","x":10.33,"y":-212},{"s":"C","x":10.366,"y":-192},{"s":"C","x":10.475,"y":-180},{"s":"C","x":10.765,"y":-172},{"s":"C","x":11.055,"y":-180},{"s":"C","x":11.164,"y":-192},{"s":"C","x":11.2,"y":-245},{"s":"C","x":11.245,"y":-195},{"s":"C","x":11.378,"y":-183},{"s":"C","x":11.735,"y":-175},{"s":"C","x":12.092,"y":-183},{"s":"C","x":12.225,"y":-195},{"s":"C","x":12.27,"y":-243},{"s":"C","x":12.32,"y":-197},{"s":"C","x":12.47,"y":-185},{"s":"C","x":12.875,"y":-177},{"s":"C","x":13.28,"y":-185},{"s":"C","x":13.43,"y":-197},{"s":"C","x":13.48,"y":-230},{"s":"C","x":13.527,"y":-199},{"s":"C","x":13.667,"y":-187},{"s":"C","x":14.04,"y":-179},{"s":"C","x":14.413,"y":-187},{"s":"C","x":14.553,"y":-199},{"s":"C","x":14.6,"y":-222},{"s":"C","x":14.65,"y":-200},{"s":"C","x":14.8,"y":-188},{"s":"C","x":15,"y":-182},
{"s":"E","x":8.95,"y":-145},{"s":"E","x":9.3,"y":-160},{"s":"E","x":9.6,"y":-172},{"s":"E","x":9.78,"y":-185},{"s":"E","x":9.85,"y":-203},{"s":"E","x":9.89,"y":-188},{"s":"E","x":10.008,"y":-176},{"s":"E","x":10.325,"y":-168},{"s":"E","x":10.642,"y":-176},{"s":"E","x":10.76,"y":-188},{"s":"E","x":10.8,"y":-268},{"s":"E","x":10.825,"y":-193},{"s":"E","x":10.898,"y":-181},{"s":"E","x":11.095,"y":-173},{"s":"E","x":11.292,"y":-181},{"s":"E","x":11.365,"y":-193},{"s":"E","x":11.39,"y":-230},{"s":"E","x":11.456,"y":-196},{"s":"E","x":11.655,"y":-184},{"s":"E","x":12.185,"y":-176},{"s":"E","x":12.715,"y":-184},{"s":"E","x":12.914,"y":-196},{"s":"E","x":12.98,"y":-262},{"s":"E","x":13.026,"y":-200},{"s":"E","x":13.163,"y":-188},{"s":"E","x":13.53,"y":-180},{"s":"E","x":13.897,"y":-188},{"s":"E","x":14.034,"y":-200},{"s":"E","x":14.08,"y":-228},{"s":"E","x":14.115,"y":-202},{"s":"E","x":14.218,"y":-190},{"s":"E","x":14.495,"y":-182},{"s":"E","x":14.772,"y":-190},{"s":"E","x":14.875,"y":-202},{"s":"E","x":14.91,"y":-230},{"s":"E","x":14.94,"y":-205},{"s":"E","x":15,"y":-195},
{"s":"F","x":9.05,"y":-80},{"s":"F","x":9.4,"y":-95},{"s":"F","x":9.8,"y":-107},{"s":"F","x":10.3,"y":-116},{"s":"F","x":10.6,"y":-121},{"s":"F","x":10.74,"y":-130},{"s":"F","x":10.78,"y":-145},{"s":"F","x":10.82,"y":-130},{"s":"F","x":10.98,"y":-122},{"s":"F","x":11.4,"y":-117},{"s":"F","x":11.82,"y":-122},{"s":"F","x":11.96,"y":-130},{"s":"F","x":12.0,"y":-145},{"s":"F","x":12.04,"y":-131},{"s":"F","x":12.25,"y":-123},{"s":"F","x":12.85,"y":-119},{"s":"F","x":13.45,"y":-123},{"s":"F","x":13.66,"y":-131},{"s":"F","x":13.7,"y":-145},{"s":"F","x":13.74,"y":-132},{"s":"F","x":13.95,"y":-125},{"s":"F","x":14.45,"y":-121},{"s":"F","x":15,"y":-124},
{"s":"G","x":9.05,"y":-70},{"s":"G","x":9.4,"y":-85},{"s":"G","x":10,"y":-100},{"s":"G","x":10.5,"y":-110},{"s":"G","x":11.0,"y":-118},{"s":"G","x":11.18,"y":-128},{"s":"G","x":11.2,"y":-140},{"s":"G","x":11.22,"y":-128},{"s":"G","x":11.5,"y":-118},{"s":"G","x":12.3,"y":-113},{"s":"G","x":13.0,"y":-117},{"s":"G","x":13.3,"y":-125},{"s":"G","x":13.34,"y":-140},{"s":"G","x":13.38,"y":-125},{"s":"G","x":13.8,"y":-116},{"s":"G","x":14.5,"y":-114},{"s":"G","x":15,"y":-117}
],
"n": [
{"x":0,"y":-309},{"x":0.05,"y":-325},{"x":0.1,"y":-312},{"x":0.15,"y":-328},{"x":0.2,"y":-307},{"x":0.25,"y":-322},{"x":0.3,"y":-314},{"x":0.35,"y":-345},{"x":0.4,"y":-310},{"x":0.45,"y":-324},{"x":0.5,"y":-306},{"x":0.55,"y":-321},{"x":0.6,"y":-313},{"x":0.65,"y":-327},{"x":0.7,"y":-308},{"x":0.75,"y":-338},{"x":0.8,"y":-311},{"x":0.85,"y":-329},{"x":0.9,"y":-315},{"x":0.95,"y":-326},
{"x":1,"y":-308},{"x":1.05,"y":-324},{"x":1.1,"y":-311},{"x":1.15,"y":-327},{"x":1.2,"y":-306},{"x":1.25,"y":-321},{"x":1.3,"y":-354},{"x":1.35,"y":-329},{"x":1.4,"y":-309},{"x":1.45,"y":-323},{"x":1.5,"y":-305},{"x":1.55,"y":-320},{"x":1.6,"y":-312},{"x":1.65,"y":-326},{"x":1.7,"y":-307},{"x":1.75,"y":-322},{"x":1.8,"y":-310},{"x":1.85,"y":-328},{"x":1.9,"y":-376},{"x":1.95,"y":-325},
{"x":2,"y":-307},{"x":2.05,"y":-323},{"x":2.1,"y":-310},{"x":2.15,"y":-326},{"x":2.2,"y":-305},{"x":2.25,"y":-320},{"x":2.3,"y":-312},{"x":2.35,"y":-328},{"x":2.4,"y":-308},{"x":2.45,"y":-366},{"x":2.5,"y":-304},{"x":2.55,"y":-319},{"x":2.6,"y":-311},{"x":2.65,"y":-325},{"x":2.7,"y":-306},{"x":2.75,"y":-321},{"x":2.8,"y":-309},{"x":2.85,"y":-327},{"x":2.9,"y":-313},{"x":2.95,"y":-324},
{"x":3,"y":-305},{"x":3.05,"y":-321},{"x":3.1,"y":-308},{"x":3.15,"y":-325},{"x":3.2,"y":-303},{"x":3.25,"y":-318},{"x":3.3,"y":-310},{"x":3.35,"y":-326},{"x":3.4,"y":-306},{"x":3.45,"y":-320},{"x":3.5,"y":-302},{"x":3.55,"y":-317},{"x":3.6,"y":-331},{"x":3.65,"y":-323},{"x":3.7,"y":-304},{"x":3.75,"y":-319},{"x":3.8,"y":-307},{"x":3.85,"y":-354},{"x":3.9,"y":-311},{"x":3.95,"y":-322},
{"x":4,"y":-304},{"x":4.05,"y":-320},{"x":4.1,"y":-307},{"x":4.15,"y":-323},{"x":4.2,"y":-301},{"x":4.25,"y":-316},{"x":4.3,"y":-308},{"x":4.35,"y":-324},{"x":4.4,"y":-304},{"x":4.45,"y":-318},{"x":4.5,"y":-299},{"x":4.55,"y":-314},{"x":4.6,"y":-306},{"x":4.65,"y":-320},{"x":4.7,"y":-301},{"x":4.75,"y":-315},{"x":4.8,"y":-303},{"x":4.85,"y":-320},{"x":4.9,"y":-307},{"x":4.95,"y":-317},
{"x":5,"y":-299},{"x":5.05,"y":-315},{"x":5.1,"y":-302},{"x":5.15,"y":-318},{"x":5.2,"y":-296},{"x":5.25,"y":-311},{"x":5.3,"y":-303},{"x":5.35,"y":-318},{"x":5.4,"y":-298},{"x":5.45,"y":-312},{"x":5.5,"y":-294},{"x":5.55,"y":-338},{"x":5.6,"y":-299},{"x":5.65,"y":-313},{"x":5.7,"y":-294},{"x":5.75,"y":-309},{"x":5.8,"y":-297},{"x":5.85,"y":-311},{"x":5.9,"y":-342},{"x":5.95,"y":-309},
{"x":6,"y":-294},{"x":6.05,"y":-310},{"x":6.1,"y":-296},{"x":6.15,"y":-312},{"x":6.2,"y":-290},{"x":6.25,"y":-305},{"x":6.3,"y":-297},{"x":6.35,"y":-311},{"x":6.4,"y":-292},{"x":6.45,"y":-305},{"x":6.5,"y":-287},{"x":6.55,"y":-301},{"x":6.6,"y":-293},{"x":6.65,"y":-305},{"x":6.7,"y":-285},{"x":6.75,"y":-299},{"x":6.8,"y":-288},{"x":6.85,"y":-300},{"x":6.9,"y":-284},{"x":6.95,"y":-301},
{"x":7,"y":-283},{"x":7.05,"y":-299},{"x":7.1,"y":-352},{"x":7.15,"y":-298},{"x":7.2,"y":-280},{"x":7.25,"y":-293},{"x":7.3,"y":-284},{"x":7.35,"y":-296},{"x":7.4,"y":-321},{"x":7.45,"y":-286},{"x":7.5,"y":-270},{"x":7.55,"y":-283},{"x":7.6,"y":-273},{"x":7.65,"y":-285},{"x":7.7,"y":-262},{"x":7.75,"y":-275},{"x":7.8,"y":-264},{"x":7.85,"y":-300},{"x":7.9,"y":-258},{"x":7.95,"y":-266},
{"x":8,"y":-246},{"x":8.04,"y":-240},{"x":8.06,"y":-15},{"x":8.08,"y":-255},{"x":8.1,"y":-268},{"x":8.15,"y":-252},{"x":8.2,"y":-270},{"x":8.25,"y":-250},{"x":8.3,"y":-288},{"x":8.35,"y":-253},{"x":8.4,"y":-247},{"x":8.45,"y":-268},{"x":8.5,"y":-250},{"x":8.55,"y":-266},{"x":8.6,"y":-246},{"x":8.65,"y":-262},{"x":8.7,"y":-282},{"x":8.75,"y":-242},{"x":8.8,"y":-240},{"x":8.83,"y":-230},{"x":8.85,"y":8},{"x":8.87,"y":-228},{"x":8.9,"y":-238},{"x":8.95,"y":-248},
{"x":9,"y":-240},{"x":9.05,"y":-256},{"x":9.1,"y":-244},{"x":9.15,"y":-264},{"x":9.2,"y":-248},{"x":9.25,"y":-266},{"x":9.3,"y":-253},{"x":9.35,"y":-272},{"x":9.4,"y":-256},{"x":9.45,"y":-275},{"x":9.5,"y":-260},{"x":9.55,"y":-278},{"x":9.6,"y":-264},{"x":9.65,"y":-302},{"x":9.7,"y":-268},{"x":9.75,"y":-286},{"x":9.8,"y":-272},{"x":9.85,"y":-290},{"x":9.9,"y":-276},{"x":9.95,"y":-292},
{"x":10,"y":-280},{"x":10.05,"y":-297},{"x":10.1,"y":-310},{"x":10.15,"y":-301},{"x":10.2,"y":-290},{"x":10.25,"y":-302},{"x":10.3,"y":-294},{"x":10.35,"y":-308},{"x":10.4,"y":-291},{"x":10.45,"y":-303},{"x":10.5,"y":-288},{"x":10.55,"y":-305},{"x":10.6,"y":-295},{"x":10.65,"y":-309},{"x":10.7,"y":-292},{"x":10.75,"y":-331},{"x":10.8,"y":-293},{"x":10.85,"y":-312},{"x":10.9,"y":-298},{"x":10.95,"y":-308},
{"x":11,"y":-300},{"x":11.05,"y":-316},{"x":11.1,"y":-303},{"x":11.15,"y":-319},{"x":11.2,"y":-298},{"x":11.25,"y":-313},{"x":11.3,"y":-305},{"x":11.35,"y":-320},{"x":11.4,"y":-301},{"x":11.45,"y":-315},{"x":11.5,"y":-297},{"x":11.55,"y":-314},{"x":11.6,"y":-306},{"x":11.65,"y":-321},{"x":11.7,"y":-301},{"x":11.75,"y":-316},{"x":11.8,"y":-304},{"x":11.85,"y":-350},{"x":11.9,"y":-306},{"x":11.95,"y":-322},
{"x":12,"y":-305},{"x":12.05,"y":-323},{"x":12.1,"y":-310},{"x":12.15,"y":-326},{"x":12.2,"y":-304},{"x":12.25,"y":-320},{"x":12.3,"y":-312},{"x":12.35,"y":-328},{"x":12.4,"y":-308},{"x":12.45,"y":-322},{"x":12.5,"y":-305},{"x":12.55,"y":-318},{"x":12.6,"y":-367},{"x":12.65,"y":-327},{"x":12.7,"y":-309},{"x":12.75,"y":-324},{"x":12.8,"y":-312},{"x":12.85,"y":-330},{"x":12.9,"y":-314},{"x":12.95,"y":-326},
{"x":13,"y":-311},{"x":13.05,"y":-329},{"x":13.1,"y":-316},{"x":13.15,"y":-332},{"x":13.2,"y":-310},{"x":13.25,"y":-326},{"x":13.3,"y":-318},{"x":13.35,"y":-334},{"x":13.4,"y":-314},{"x":13.45,"y":-328},{"x":13.5,"y":-311},{"x":13.55,"y":-325},{"x":13.6,"y":-317},{"x":13.65,"y":-332},{"x":13.7,"y":-313},{"x":13.75,"y":-328},{"x":13.8,"y":-378},{"x":13.85,"y":-330},{"x":13.9,"y":-318},{"x":13.95,"y":-331},
{"x":14,"y":-318},{"x":14.05,"y":-336},{"x":14.1,"y":-322},{"x":14.15,"y":-339},{"x":14.2,"y":-318},{"x":14.25,"y":-333},{"x":14.3,"y":-352},{"x":14.35,"y":-342},{"x":14.4,"y":-324},{"x":14.45,"y":-337},{"x":14.5,"y":-322},{"x":14.55,"y":-334},{"x":14.6,"y":-328},{"x":14.65,"y":-345},{"x":14.7,"y":-326},{"x":14.75,"y":-341},{"x":14.8,"y":-331},{"x":14.85,"y":-350},{"x":14.9,"y":-355},{"x":14.95,"y":-344},{"x":15,"y":-340}
],
"p": [
{"s":"P1","x":8.0,"y":-66},{"s":"P1","x":8.06,"y":-38},{"s":"P1","x":8.12,"y":-74},
{"s":"P2","x":8.8,"y":-52},{"s":"P2","x":8.85,"y":-14},{"s":"P2","x":8.9,"y":-50}
]
},
"layer": [
{
 "data": {"name": "b"},
 "mark": {"type": "line", "color": "black", "strokeWidth": 2.7, "interpolate": "monotone", "clip": true},
 "encoding": {
  "x": {"field": "x", "type": "quantitative", "scale": {"domain": [0, 15], "nice": false, "zero": false}, "axis": {"orient": "bottom", "values": [0, 5, 10, 15], "title": "Frequência (Hz)", "titlePadding": 14, "labelPadding": 19, "labelExpr": "toString(datum.value)"}},
  "y": {"field": "y", "type": "quantitative", "scale": {"domain": [-400, 50], "nice": false, "zero": false}, "axis": {"orient": "left", "values": [-400, -350, -300, -250, -200, -150, -100, -50, 0, 50], "title": "Receptância dB.m/N", "titlePadding": 12, "labelExpr": "toString(datum.value)"}},
  "detail": {"field": "s", "type": "nominal"}
 }
},
{
 "data": {"name": "t"},
 "mark": {"type": "line", "color": "black", "strokeWidth": 1, "interpolate": "monotone", "clip": true},
 "encoding": {
  "x": {"field": "x", "type": "quantitative", "axis": null},
  "y": {"field": "y", "type": "quantitative", "axis": null},
  "detail": {"field": "s", "type": "nominal"}
 }
},
{
 "data": {"name": "n"},
 "mark": {"type": "line", "color": "black", "strokeWidth": 1.8, "clip": true},
 "encoding": {
  "x": {"field": "x", "type": "quantitative", "axis": null},
  "y": {"field": "y", "type": "quantitative", "axis": null}
 }
},
{
 "data": {"name": "p"},
 "mark": {"type": "line", "color": "black", "strokeWidth": 1.5, "clip": true},
 "encoding": {
  "x": {"field": "x", "type": "quantitative", "axis": {"orient": "top", "values": [0, 5, 10, 15], "labels": false, "title": null}},
  "y": {"field": "y", "type": "quantitative", "axis": {"orient": "right", "values": [-400, -350, -300, -250, -200, -150, -100, -50, 0, 50], "labels": false, "title": null}},
  "detail": {"field": "s", "type": "nominal"}
 }
}
],
"resolve": {"axis": {"x": "independent", "y": "independent"}}
}
